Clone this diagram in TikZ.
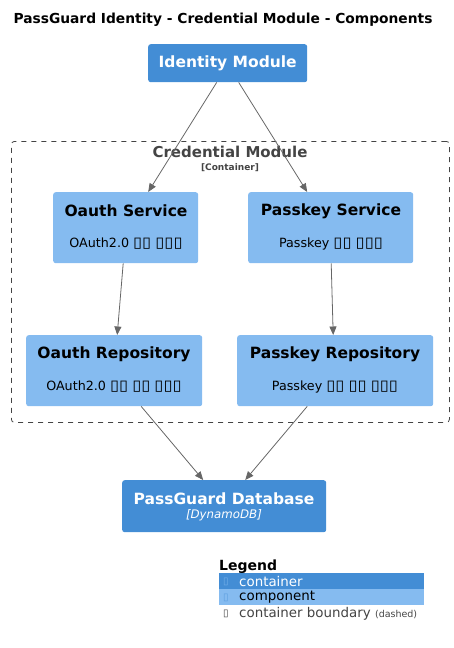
\documentclass[tikz,border=0pt]{standalone}
\usepackage{fontspec}
\setmainfont{DejaVu Sans}
\usetikzlibrary{arrows.meta}
\definecolor{cont}{HTML}{438DD5}
\definecolor{comp}{HTML}{85BBF0}
\definecolor{bnd}{HTML}{444444}
\definecolor{arrc}{HTML}{666666}
\newcommand{\tofu}{\scalebox{1.3}[1.15]{▯}}
\newcommand{\ltofu}{▯}
\tikzset{
  box/.style={draw=none, rounded corners=2.5pt, inner sep=0pt, anchor=north west},
  contbox/.style={box, fill=cont},
  compbox/.style={box, fill=comp},
  ttl/.style={font=\bfseries\fontsize{15.5}{17}\selectfont},
  desc/.style={font=\fontsize{12.7}{15}\selectfont},
  arr/.style={draw=arrc, line width=0.8pt, -{Triangle[length=8.5pt,width=7pt]}},
  legtxt/.style={anchor=west, font=\fontsize{13.4}{15}\selectfont, inner sep=0pt},
  legico/.style={anchor=west, font=\fontsize{10}{12}\selectfont, inner sep=0pt},
}
\begin{document}
\begin{tikzpicture}[x=1pt,y=-1pt]
\useasboundingbox (0,0) rectangle (454,648);
\node[anchor=base west, font=\bfseries\fontsize{13.8}{16}\selectfont] (title) at (10,23) {PassGuard Identity - Credential Module - Components};

% boundary
\node[draw=bnd, dash pattern=on 5pt off 5pt, line width=0.8pt, rounded corners=3pt, minimum width=438pt, minimum height=281pt, anchor=north west, inner sep=0pt] (bound) at (11,141) {};
\node[text=bnd, font=\bfseries\fontsize{15}{17}\selectfont] (bl) at (230,152) {Credential Module};
\node[text=bnd, font=\bfseries\fontsize{9}{11}\selectfont] (bl2) at (230,168) {[Container]};

% identity module
\node[contbox, minimum width=159pt, minimum height=38pt] (idm) at (148,44) {};
\node[ttl, text=white] (idmt) at (idm.center) {Identity Module};

% oauth service
\node[compbox, minimum width=145pt, minimum height=71pt] (os) at (53,192) {};
\node[ttl] (ost) at (126,211) {Oauth Service};
\node[desc] (osd) at (126,244) {OAuth2.0 \tofu\tofu{} \tofu\tofu\tofu};

% passkey service
\node[compbox, minimum width=165pt, minimum height=71pt] (ps) at (248,192) {};
\node[ttl] (pst) at (331,211) {Passkey Service};
\node[desc] (psd) at (331,244) {Passkey \tofu\tofu{} \tofu\tofu\tofu};

% oauth repo
\node[compbox, minimum width=176pt, minimum height=71pt] (or) at (26,335) {};
\node[ttl] (ort) at (114,354) {Oauth Repository};
\node[desc] (ord) at (114,387) {OAuth2.0 \tofu\tofu{} \tofu\tofu{} \tofu\tofu\tofu};

% passkey repo
\node[compbox, minimum width=196pt, minimum height=71pt] (pr) at (237,335) {};
\node[ttl] (prt) at (335,354) {Passkey Repository};
\node[desc] (prd) at (335,387) {Passkey \tofu\tofu{} \tofu\tofu{} \tofu\tofu\tofu};

% database
\node[contbox, minimum width=204pt, minimum height=52pt] (db) at (122,480) {};
\node[ttl, text=white] (dbt) at (224,499) {PassGuard Database};
\node[text=white, font=\itshape\fontsize{11.8}{13}\selectfont] (dbd) at (224,515) {[DynamoDB]};

% arrows
\draw[arr] ([xshift=-11pt]idm.south) -- ([xshift=22.5pt]os.north);
\draw[arr] ([xshift=11pt]idm.south) -- ([xshift=-23.5pt]ps.north);
\draw[arr] ([xshift=-2.5pt]os.south) -- ([xshift=3pt]or.north);
\draw[arr] ([xshift=0.5pt]ps.south) -- ([xshift=-2pt]pr.north);
\draw[arr] ([xshift=27pt]or.south) -- ([xshift=-21pt]db.north);
\draw[arr] ([xshift=-28pt]pr.south) -- ([xshift=21pt]db.north);

% legend
\node[anchor=base west, font=\bfseries\fontsize{14}{16}\selectfont, inner sep=0pt] (lg) at (219,570) {Legend};
\node[fill=cont, minimum width=205pt, minimum height=16pt, anchor=north west, inner sep=0pt] (l1) at (219,573) {};
\node[legico, text=comp!70!cont] (l1i) at (223,581.5) {\ltofu};
\node[legtxt, text=white] (l1t) at (239,581) {container};
\node[fill=comp, minimum width=205pt, minimum height=16pt, anchor=north west, inner sep=0pt] (l2) at (219,589) {};
\node[legico, text=cont!60!comp] (l2i) at (223,597.5) {\ltofu};
\node[legtxt, text=black] (l2t) at (239,597) {component};
\node[legico, text=bnd] (l3i) at (223,614) {\ltofu};
\node[legtxt, text=bnd] (l3t) at (239,614) {container boundary {\fontsize{9.5}{11}\selectfont (dashed)}};
\end{tikzpicture}
\end{document}
